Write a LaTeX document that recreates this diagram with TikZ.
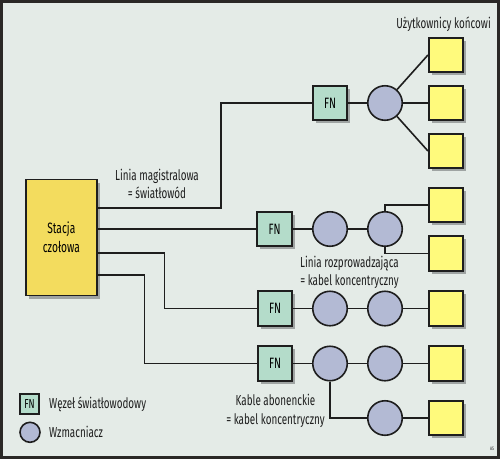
\documentclass[tikz,border=0pt]{standalone}
\usepackage{fontspec}
\setmainfont{Fira Sans}[FakeStretch=0.68]
\usepackage{xcolor}
\usepackage{tikz}
\usetikzlibrary{calc,shadows}
\definecolor{bg}{HTML}{E4EBE7}
\definecolor{frame}{HTML}{2A2826}
\definecolor{ink}{HTML}{1E1E1E}
\definecolor{headfill}{HTML}{F3DC5E}
\definecolor{userfill}{HTML}{FFFA7C}
\definecolor{fnfill}{HTML}{B4DCCA}
\definecolor{ampfill}{HTML}{B3BAD4}
\definecolor{shade}{HTML}{9FA4A3}
\tikzset{
  wire/.style={draw=ink, line width=1.6pt},
  shd/.style={drop shadow={shadow xshift=3pt, shadow yshift=-3pt, fill=shade, opacity=1}},
  head/.style={draw=ink, line width=1.6pt, fill=headfill, shd, minimum width=71pt, minimum height=116pt, align=center, font=\fontsize{15}{19}\selectfont},
  fn/.style={draw=ink, line width=1.6pt, fill=fnfill, shd, minimum size=34.5pt, inner sep=0pt, font=\fontsize{15}{16}\selectfont},
  amp/.style={circle, draw=ink, line width=1.6pt, fill=ampfill, minimum size=34.5pt, inner sep=0pt},
  user/.style={draw=ink, line width=1.6pt, fill=userfill, shd, minimum size=34.5pt, inner sep=0pt},
  keyfn/.style={draw=ink, line width=1.6pt, fill=fnfill, minimum width=19.5pt, minimum height=20.5pt, inner sep=0pt, font=\fontsize{13}{14}\selectfont},
  keyamp/.style={circle, draw=ink, line width=1.6pt, fill=ampfill, minimum size=20pt, inner sep=0pt},
  lab/.style={text=ink, font=\fontsize{14.5}{18.5}\selectfont, align=center, inner sep=0pt},
  tiny/.style={text=ink, font=\fontsize{5}{6}\selectfont, inner sep=0pt}
}
\begin{document}
\begin{tikzpicture}[x=1pt,y=-1pt]
  \useasboundingbox (0,0) rectangle (500,459);
  \fill[bg] (0,0) rectangle (500,459);
  \draw[draw=frame, line width=2.6pt] (1.3,1.3) rectangle (498.7,457.7);

  \node[head] (he) at (61.3,237.5) {Stacja\\czołowa};

  \node[fn] (fn1) at (330,103) {FN};
  \node[amp] (a1) at (385,103) {};
  \node[user] (u1) at (446,55) {};
  \node[user] (u2) at (446,103) {};
  \node[user] (u3) at (446,151) {};

  \node[fn] (fn2) at (274.5,229) {FN};
  \node[amp] (a2) at (330,229) {};
  \node[amp] (a3) at (385,229) {};
  \node[user] (u4) at (446,205) {};
  \node[user] (u5) at (446,253.5) {};

  \node[fn] (fn3) at (275,308.5) {FN};
  \node[amp] (a4) at (330,308.5) {};
  \node[amp] (a5) at (385,308.5) {};
  \node[user] (u6) at (446,308.5) {};

  \node[fn] (fn4) at (275,363.5) {FN};
  \node[amp] (a6) at (330,363.5) {};
  \node[amp] (a7) at (385,363.5) {};
  \node[user] (u7) at (446,363.5) {};
  \node[amp] (a8) at (385,418) {};
  \node[user] (u8) at (446,418) {};

  \coordinate (k1) at (221,208);
  \coordinate (k3) at (164.5,253);
  \coordinate (k4) at (144.5,275);

  \draw[wire] (he.east |- k1) -- (k1) |- (fn1.west);
  \draw[wire] (fn1) -- (a1);
  \draw[wire] (a1) -- (u1.west);
  \draw[wire] (a1) -- (u2);
  \draw[wire] (a1) -- (u3.west);

  \draw[wire] (he.east |- fn2) -- (fn2);
  \draw[wire] (fn2) -- (a2);
  \draw[wire] (a2) -- (a3);
  \draw[wire] (a3.north) |- (u4.west);
  \draw[wire] (a3.south) |- (u5.west);

  \draw[wire] (he.east |- k3) -- (k3) |- (fn3.west);
  \draw[wire] (fn3) -- (a4);
  \draw[wire] (a4) -- (a5);
  \draw[wire] (a5) -- (u6);

  \draw[wire] (he.east |- k4) -- (k4) |- (fn4.west);
  \draw[wire] (fn4) -- (a6);
  \draw[wire] (a6) -- (a7);
  \draw[wire] (a7) -- (u7);
  \draw[wire] (a6.south) |- (a8.west);
  \draw[wire] (a8) -- (u8);

  \node[lab, anchor=east] (users) at (491,24) {Użytkownicy końcowi};
  \node[lab] (trunk) at (157,184) {Linia magistralowa\\= światłowód};
  \node[lab] (dist) at (349.5,272.5) {Linia rozprowadzająca\\= kabel koncentryczny};
  \node[lab] (drop) at (275.5,411) {Kable abonenckie\\= kabel koncentryczny};

  \node[keyfn] (kfn) at (29.5,404) {FN};
  \node[lab, anchor=west] (kfntxt) at (49,404) {Węzeł światłowodowy};
  \node[keyamp] (kamp) at (30,432.3) {};
  \node[lab, anchor=west] (kamptxt) at (49,432.3) {Wzmacniacz};

  \node[tiny] (sig) at (492,449) {AS};
\end{tikzpicture}
\end{document}
